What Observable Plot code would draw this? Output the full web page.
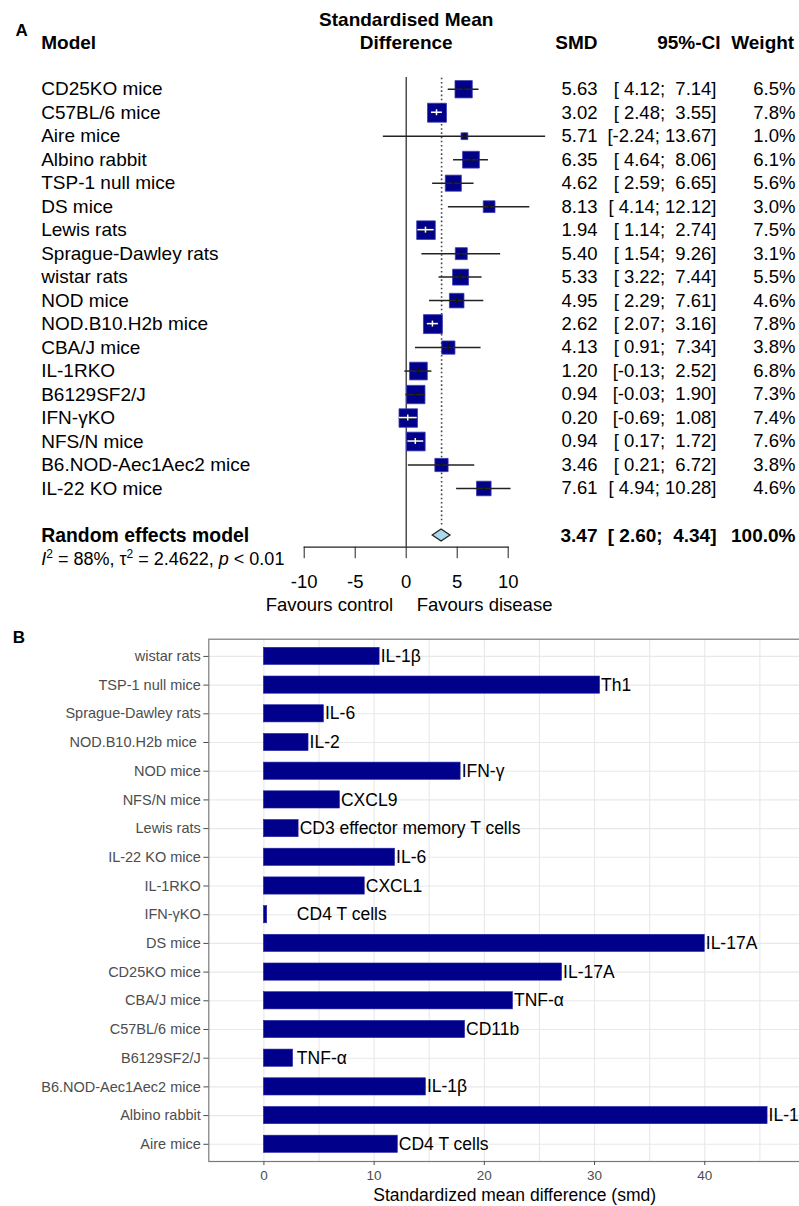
<!DOCTYPE html>
<html>
<head>
<meta charset="utf-8">
<script src="https://cdn.jsdelivr.net/npm/d3@7"></script>
<script src="https://cdn.jsdelivr.net/npm/@observablehq/plot@0.6"></script>
<style>
  html, body { margin: 0; padding: 0; background: white; overflow: hidden; }
  svg { display: block; }
</style>
</head>
<body>
<script>
// ---------------- Panel A data (forest plot) ----------------
const models = ["CD25KO mice", "C57BL/6 mice", "Aire mice", "Albino rabbit", "TSP-1 null mice", "DS mice",
  "Lewis rats", "Sprague-Dawley rats", "wistar rats", "NOD mice", "NOD.B10.H2b mice", "CBA/J mice",
  "IL-1RKO", "B6129SF2/J", "IFN-γKO", "NFS/N mice", "B6.NOD-Aec1Aec2 mice", "IL-22 KO mice"];
const smd = [5.63, 3.02, 5.71, 6.35, 4.62, 8.13, 1.94, 5.40, 5.33, 4.95, 2.62, 4.13, 1.20, 0.94, 0.20, 0.94, 3.46, 7.61];
const ciLow = [4.12, 2.48, -2.24, 4.64, 2.59, 4.14, 1.14, 1.54, 3.22, 2.29, 2.07, 0.91, -0.13, -0.03, -0.69, 0.17, 0.21, 4.94];
const ciHigh = [7.14, 3.55, 13.67, 8.06, 6.65, 12.12, 2.74, 9.26, 7.44, 7.61, 3.16, 7.34, 2.52, 1.90, 1.08, 1.72, 6.72, 10.28];
const weight = [6.5, 7.8, 1.0, 6.1, 5.6, 3.0, 7.5, 3.1, 5.5, 4.6, 7.8, 3.8, 6.8, 7.3, 7.4, 7.6, 3.8, 4.6];
const pooledLabel = "Random effects model";
const pooledSmd = 3.47, pooledLo = 2.60, pooledHi = 4.34, pooledWeight = 100.0;
const hetI2 = 88, hetTau2 = "2.4622", hetP = "< 0.01";
const forestTicks = [-10, -5, 0, 5, 10];
const favourLabels = ["Favours control", "Favours disease"];
const headerA = {model: "Model", effect1: "Standardised Mean", effect2: "Difference", smd: "SMD", ci: "95%-CI", weight: "Weight"};

// ---------------- Panel B data (bar chart) ----------------
const bModels = ["wistar rats", "TSP-1 null mice", "Sprague-Dawley rats", "NOD.B10.H2b mice ", "NOD mice",
  "NFS/N mice", "Lewis rats", "IL-22 KO mice", "IL-1RKO", "IFN-γKO", "DS mice", "CD25KO mice",
  "CBA/J mice", "C57BL/6 mice", "B6129SF2/J", "B6.NOD-Aec1Aec2 mice", "Albino rabbit", "Aire mice"];
const bSmd = [10.5, 30.5, 5.45, 4.05, 17.85, 6.9, 3.15, 11.9, 9.15, 0.3, 40.0, 27.05, 22.6, 18.25, 2.65, 14.7, 45.7, 12.15];
const bMarker = ["IL-1β", "Th1", "IL-6", "IL-2", "IFN-γ", "CXCL9", "CD3 effector memory T cells", "IL-6", "CXCL1",
  "CD4 T cells", "IL-17A", "IL-17A", "TNF-α", "CD11b", "TNF-α", "IL-1β", "IL-1β", "CD4 T cells"];
const bTicks = [0, 10, 20, 30, 40];
const bGrid = [0, 5, 10, 15, 20, 25, 30, 35, 40, 45, 50];
const bTitle = "Standardized mean difference (smd)";
const minLabelX = 2.9;

// ---------------- Build panel A ----------------
const FONT = "'Liberation Sans', Arial, Helvetica, sans-serif";
const rowsA = models.map((m, i) => ({model: m, smd: smd[i], lo: ciLow[i], hi: ciHigh[i], weight: weight[i]}));
const f2 = v => v.toFixed(2);
const wLo = d3.max([...ciLow, pooledLo], v => f2(v).length);
const wHi = d3.max([...ciHigh, pooledHi], v => f2(v).length);
const ciText = (lo, hi) => `[${f2(lo).padStart(wLo)}; ${f2(hi).padStart(wHi)}]`;
const pooledRow = [{model: pooledLabel, smd: pooledSmd, lo: pooledLo, hi: pooledHi, weight: pooledWeight}];
const yDomainA = [...models, " ", pooledLabel];
const DARKBLUE = "#00008B";

function scaleFn(scales, k) {
  return typeof scales[k] === "function" ? scales[k] : scales.scales[k].apply;
}

function whiteInner(index, scales) {
  const x = scaleFn(scales, "x"), y = scaleFn(scales, "y"), r = scaleFn(scales, "r");
  const g = d3.create("svg:g");
  for (const d of rowsA) {
    const side = r(d.weight) * Math.sqrt(Math.PI);
    const x1 = x(d.lo), x2 = x(d.hi), cy = y(d.model), cx = x(d.smd);
    if (x2 - x1 < side) {
      g.append("line").attr("x1", x1).attr("x2", x2).attr("y1", cy).attr("y2", cy)
        .attr("stroke", "white").attr("stroke-width", 1.5);
      g.append("line").attr("x1", cx).attr("x2", cx).attr("y1", cy - 3).attr("y2", cy + 3)
        .attr("stroke", "white").attr("stroke-width", 1.5);
    }
  }
  return g.node();
}

function diamond(index, scales) {
  const x = scaleFn(scales, "x"), y = scaleFn(scales, "y");
  const cy = y(pooledLabel);
  const pts = [[x(pooledLo), cy], [x(pooledSmd), cy - 6], [x(pooledHi), cy], [x(pooledSmd), cy + 6]];
  return d3.create("svg:polygon")
    .attr("points", pts.map(p => p.join(",")).join(" "))
    .attr("fill", "#aad9ec").attr("stroke", "#222").attr("stroke-width", 1.3).node();
}

const FS = 18.5, FSN = 19, FSB = 19;
const mid = {lineAnchor: "middle"};
const plotA = Plot.plot({
  width: 799, height: 622,
  marginLeft: 303.7, marginRight: 291.3, marginTop: 77, marginBottom: 75.3,
  style: {fontFamily: FONT, fontSize: FS + "px", background: "white", color: "black", maxWidth: "none", overflow: "visible"},
  x: {domain: [-10, 10], axis: null},
  y: {type: "point", domain: yDomainA, axis: null, round: false},
  r: {type: "sqrt", domain: [0, 7.8], range: [0, 10.7]},
  marks: [
    Plot.ruleX([0], {stroke: "#222", strokeWidth: 1.2}),
    Plot.ruleX([pooledSmd], {y1: () => models[0], y2: () => pooledLabel, insetTop: -11, insetBottom: 8,
      stroke: "#444", strokeWidth: 1.6, strokeDasharray: "1.6,2.6"}),
    Plot.frame({anchor: "bottom", stroke: "#222", strokeWidth: 1.2}),
    Plot.axisX({ticks: forestTicks, tickFormat: d => String(d), tickSize: 11.5, tickPadding: 16,
      fontSize: FS, label: null, stroke: "#222"}),
    Plot.dot(rowsA, {x: "smd", y: "model", r: "weight", symbol: "square", fill: DARKBLUE,
      stroke: "#3a3ab4", strokeWidth: 0.8}),
    Plot.ruleY(rowsA, {y: "model", x1: "lo", x2: "hi", stroke: "#222", strokeWidth: 1.5}),
    Plot.ruleX(rowsA, {x: "smd", y1: "model", y2: "model", insetTop: -3, insetBottom: -3, stroke: "#111", strokeWidth: 1.5}),
    whiteInner,
    diamond,
    // left labels
    Plot.text(rowsA, {y: "model", text: "model", frameAnchor: "left", textAnchor: "start", dx: -263, fontSize: FSN, ...mid}),
    Plot.text(pooledRow, {y: "model", text: "model", frameAnchor: "left", textAnchor: "start", dx: -263, fontSize: 19.4, fontWeight: "bold", ...mid}),
    // numeric columns
    Plot.text(rowsA, {y: "model", text: d => f2(d.smd), frameAnchor: "right", textAnchor: "end", dx: 89.3, fontSize: FS, ...mid}),
    Plot.text(rowsA, {y: "model", text: d => ciText(d.lo, d.hi), frameAnchor: "right", textAnchor: "end", dx: 208.3, fontSize: FS, ...mid}),
    Plot.text(rowsA, {y: "model", text: d => d.weight.toFixed(1) + "%", frameAnchor: "right", textAnchor: "end", dx: 287.3, fontSize: FS, ...mid}),
    Plot.text(pooledRow, {y: "model", text: d => f2(d.smd), frameAnchor: "right", textAnchor: "end", dx: 89.3, fontSize: FSB, fontWeight: "bold", ...mid}),
    Plot.text(pooledRow, {y: "model", text: d => ciText(d.lo, d.hi), frameAnchor: "right", textAnchor: "end", dx: 208.3, fontSize: FSB, fontWeight: "bold", ...mid}),
    Plot.text(pooledRow, {y: "model", text: d => d.weight.toFixed(1) + "%", frameAnchor: "right", textAnchor: "end", dx: 287.3, fontSize: FSB, fontWeight: "bold", ...mid}),
    // headers
    Plot.text([headerA.effect1], {frameAnchor: "top", dy: -58, fontSize: FSB, fontWeight: "bold", ...mid}),
    Plot.text([headerA.effect2], {frameAnchor: "top", dy: -35, fontSize: FSB, fontWeight: "bold", ...mid}),
    Plot.text([headerA.model], {frameAnchor: "top-left", textAnchor: "start", dx: -263, dy: -35, fontSize: FSB, fontWeight: "bold", ...mid}),
    Plot.text([headerA.smd], {frameAnchor: "top-right", textAnchor: "end", dx: 89.3, dy: -35, fontSize: FSB, fontWeight: "bold", ...mid}),
    Plot.text([headerA.ci], {frameAnchor: "top-right", textAnchor: "end", dx: 212.3, dy: -35, fontSize: FSB, fontWeight: "bold", ...mid}),
    Plot.text([headerA.weight], {frameAnchor: "top-right", textAnchor: "end", dx: 286, dy: -35, fontSize: FSB, fontWeight: "bold", ...mid}),
    Plot.text(["A"], {frameAnchor: "top-left", textAnchor: "start", dx: -288.7, dy: -47, fontSize: 17, fontWeight: "bold", ...mid}),
    // heterogeneity
    Plot.text([`I2 = ${hetI2}%, τ2 = ${hetTau2}, p ${hetP}`], {frameAnchor: "bottom-left", textAnchor: "start", dx: -263, dy: 12, fontSize: 18, ...mid}),
    // favours labels
    Plot.text([favourLabels[0]], {x: () => 0, frameAnchor: "bottom", textAnchor: "end", dx: -13, dy: 58.3, fontSize: FS, ...mid}),
    Plot.text([favourLabels[1]], {x: () => 0, frameAnchor: "bottom", textAnchor: "start", dx: 10.5, dy: 58.3, fontSize: FS, ...mid})
  ]
});

// rich heterogeneity text (italic I and p, superscripts)
for (const t of plotA.querySelectorAll("text")) {
  if (t.textContent.startsWith("I2 =")) {
    t.innerHTML = `<tspan font-style="italic">I</tspan><tspan dy="-7" font-size="12">2</tspan>` +
      `<tspan dy="7"> = ${hetI2}%, τ</tspan><tspan dy="-7" font-size="12">2</tspan>` +
      `<tspan dy="7"> = ${hetTau2}, </tspan><tspan font-style="italic">p</tspan><tspan> ${hetP.replace("<", "&lt;")}</tspan>`;
  }
}
document.body.appendChild(plotA);

// ---------------- Build panel B ----------------
const dataB = bModels.map((m, i) => ({model: m, smd: bSmd[i], marker: bMarker[i]}));
const plotB = Plot.plot({
  width: 820, height: 584,
  marginLeft: 208.3, marginRight: 0, marginTop: 16.7, marginBottom: 45,
  style: {fontFamily: FONT, fontSize: "14px", background: "white", color: "black", maxWidth: "none", overflow: "visible"},
  x: {domain: [-5, 50.5], axis: null},
  y: {type: "band", domain: bModels, paddingInner: 0.4, paddingOuter: 0.3, axis: null, round: false},
  marks: [
    Plot.gridX(bGrid, {stroke: "#e8e8e8", strokeOpacity: 1, strokeWidth: 1.1}),
    Plot.gridY(bModels, {stroke: "#e8e8e8", strokeOpacity: 1, strokeWidth: 1.1}),
    Plot.barX(dataB, {x: "smd", y: "model", fill: DARKBLUE, stroke: "#2828a8", strokeWidth: 0.6}),
    Plot.text(dataB, {x: d => Math.max(d.smd, minLabelX), y: "model", text: "marker", textAnchor: "start", dx: 1, fontSize: 17.5, fill: "black", ...mid}),
    Plot.frame({stroke: "#7a7a7a", strokeWidth: 1.2}),
    Plot.axisY({tickSize: 5, tickPadding: 3, fontSize: 14.5, color: "#4d4d4d", label: null}),
    Plot.axisX({ticks: bTicks, tickSize: 4, tickPadding: 5, fontSize: 13.5, color: "#4d4d4d", label: null}),
    Plot.text([bTitle], {frameAnchor: "bottom", dy: 34, fontSize: 17.5, fill: "black", ...mid}),
    Plot.text(["B"], {frameAnchor: "top-left", textAnchor: "start", dx: -196, dy: -2, fontSize: 17, fontWeight: "bold", fill: "black", ...mid})
  ]
});
document.body.appendChild(plotB);
</script>
</body>
</html>
